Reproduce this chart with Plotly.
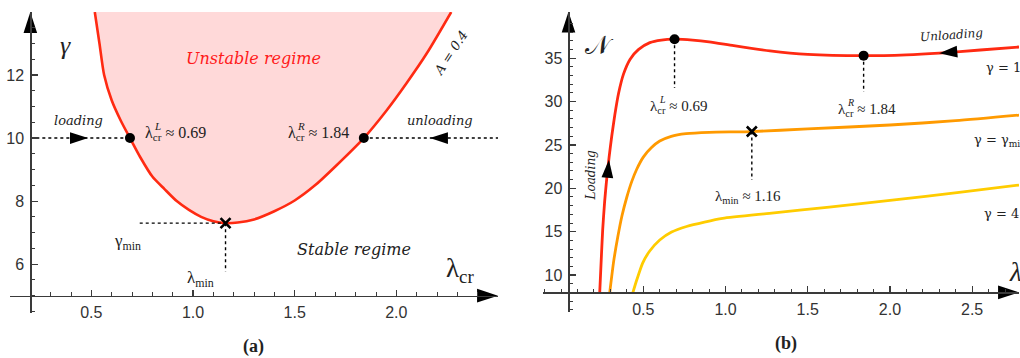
import numpy as np
import plotly.graph_objects as go

# ---------------- data: panel (a)  stability boundary, A = 0.4 ----------------
lam_cr = [0.517, 0.540, 0.563, 0.60, 0.645, 0.69, 0.74, 0.80, 0.86, 0.92, 0.98, 1.04,
          1.10, 1.16, 1.22, 1.30, 1.40, 1.50, 1.60, 1.70, 1.84, 1.95, 2.05, 2.15, 2.27]
gamma_cr = [14.0, 13.0, 12.0, 11.2, 10.55, 10.0, 9.4, 8.78, 8.38, 8.0, 7.72, 7.5,
            7.36, 7.30, 7.32, 7.42, 7.68, 8.02, 8.5, 9.1, 10.0, 10.86, 11.74, 12.69, 14.0]
lam_crit = [0.69, 1.84]          # lambda_cr^L, lambda_cr^R
gamma_load = 10.0
lam_min, gamma_min = 1.16, 7.30

# ---------------- data: panel (b)  N(lambda) curves ----------------
lam_g10 = [0.235, 0.244, 0.253, 0.265, 0.278, 0.292, 0.308, 0.327, 0.35, 0.38, 0.42,
           0.47, 0.54, 0.61, 0.69, 0.80, 0.90, 1.05, 1.27, 1.50, 1.84, 2.10, 2.30, 2.55, 2.785]
N_g10 = [8.0, 11.7, 15.2, 18.5, 21.2, 23.6, 26.0, 28.5, 31.0, 33.2, 34.9,
         36.0, 36.8, 37.1, 37.2, 37.1, 36.9, 36.45, 35.85, 35.45, 35.3, 35.4, 35.6, 35.95, 36.3]
lam_gmin = [0.296, 0.32, 0.345, 0.37, 0.40, 0.43, 0.46, 0.50, 0.55, 0.60, 0.67, 0.76,
            0.90, 1.16, 1.50, 2.0, 2.4, 2.785]
N_gmin = [8.0, 11.6, 14.4, 16.8, 19.0, 20.8, 22.2, 23.6, 24.7, 25.45, 26.0, 26.3,
          26.46, 26.55, 26.85, 27.3, 27.8, 28.45]
lam_g45 = [0.437, 0.46, 0.496, 0.539, 0.60, 0.672, 0.763, 0.872, 0.982, 1.267, 1.631,
           2.014, 2.421, 2.785]
N_g45 = [8.0, 9.42, 11.38, 12.77, 14.04, 14.96, 15.6, 16.11, 16.54, 17.12, 17.84,
         18.65, 19.52, 20.38]
N_crit = [37.2, 35.3]
N_min = 26.55

xticks_a = [0.5, 1.0, 1.5, 2.0]
yticks_a = [6, 8, 10, 12]
xticks_b = [0.5, 1.0, 1.5, 2.0, 2.5]
yticks_b = [10, 15, 20, 25, 30, 35]

# ---------------- geometry ----------------
W, H = 1020, 358
def fx(p):
    return p / W
def fy(p):
    return (H - p) / H

XR_A, YR_A = [0.1, 2.5], [4.45, 14.0]
XR_B, YR_B = [-0.11, 2.785], [5.77, 40.37]
DX_A, DY_A = [fx(10), fx(498)], [fy(313), fy(12)]
DX_B, DY_B = [fx(543), fx(1019)], [fy(311.7), fy(11.7)]
ORIG_A = (0.2, 5.0)
ORIG_B = (0.045, 8.0)

def pos(v, r, d):
    return d[0] + (v - r[0]) / (r[1] - r[0]) * (d[1] - d[0])

RED = '#FF2A12'
ORANGE = '#FF9A00'
GOLD = '#FFCC00'
AX = '#3a3a3a'
SERIF = 'Liberation Serif'
TSERIF = 'DejaVu Serif'
SANS = 'Liberation Sans'

fig = go.Figure()

# ---- panel (a) ----
fig.add_trace(go.Scatter(x=lam_cr, y=gamma_cr, mode='lines', fill='toself',
                         fillcolor='#FFD9D9', line=dict(width=0, shape='spline', smoothing=0.7),
                         hoverinfo='skip', xaxis='x', yaxis='y'))
fig.add_trace(go.Scatter(x=lam_cr, y=gamma_cr, mode='lines',
                         line=dict(color=RED, width=2.6, shape='spline', smoothing=0.7),
                         xaxis='x', yaxis='y'))
dot = dict(color='black', width=1.4, dash='dot')
fig.add_trace(go.Scatter(x=[ORIG_A[0], lam_crit[0]], y=[gamma_load] * 2, mode='lines', line=dot, xaxis='x', yaxis='y'))
fig.add_trace(go.Scatter(x=[lam_crit[1], XR_A[1]], y=[gamma_load] * 2, mode='lines', line=dot, xaxis='x', yaxis='y'))
fig.add_trace(go.Scatter(x=[0.738, lam_min], y=[gamma_min] * 2, mode='lines', line=dot, xaxis='x', yaxis='y'))
fig.add_trace(go.Scatter(x=[lam_min, lam_min], y=[gamma_min, 5.77], mode='lines', line=dot, xaxis='x', yaxis='y'))
fig.add_trace(go.Scatter(x=lam_crit, y=[gamma_load] * 2, mode='markers',
                         marker=dict(color='black', size=10), xaxis='x', yaxis='y'))
fig.add_trace(go.Scatter(x=[lam_min], y=[gamma_min], mode='markers',
                         marker=dict(color='black', size=10, symbol='x-thin', line=dict(width=2.6, color='black')),
                         xaxis='x', yaxis='y'))

# ---- panel (b) ----
for lx, ly, c in [(lam_g45, N_g45, GOLD), (lam_gmin, N_gmin, ORANGE), (lam_g10, N_g10, RED)]:
    fig.add_trace(go.Scatter(x=lx, y=ly, mode='lines',
                             line=dict(color=c, width=2.8, shape='spline', smoothing=0.6),
                             xaxis='x2', yaxis='y2'))
fig.add_trace(go.Scatter(x=[lam_crit[0]] * 2, y=[N_crit[0], 31.57], mode='lines', line=dot, xaxis='x2', yaxis='y2'))
fig.add_trace(go.Scatter(x=[lam_crit[1]] * 2, y=[N_crit[1], 31.1], mode='lines', line=dot, xaxis='x2', yaxis='y2'))
fig.add_trace(go.Scatter(x=[lam_min] * 2, y=[N_min, 20.96], mode='lines', line=dot, xaxis='x2', yaxis='y2'))
fig.add_trace(go.Scatter(x=lam_crit, y=N_crit, mode='markers',
                         marker=dict(color='black', size=10), xaxis='x2', yaxis='y2'))
fig.add_trace(go.Scatter(x=[lam_min], y=[N_min], mode='markers',
                         marker=dict(color='black', size=10, symbol='x-thin', line=dict(width=2.6, color='black')),
                         xaxis='x2', yaxis='y2'))

# ---- arrowheads (axes + paths) ----
def arrow(x, y, ang, size, xa, ya):
    fig.add_trace(go.Scatter(x=[x], y=[y], mode='markers', cliponaxis=False,
                             marker=dict(symbol='arrow', angle=ang, size=size, color='black',
                                         line=dict(width=0)),
                             xaxis=xa, yaxis=ya))

arrow(XR_A[1], ORIG_A[1], 90, 22, 'x', 'y')
arrow(ORIG_A[0], YR_A[1], 0, 22, 'x', 'y')
arrow(XR_B[1], ORIG_B[1], 90, 22, 'x2', 'y2')
arrow(ORIG_B[0], YR_B[1], 0, 22, 'x2', 'y2')
arrow(0.484, gamma_load, 90, 19, 'x', 'y')
arrow(2.165, gamma_load, 270, 19, 'x', 'y')
arrow(0.291, 23.3, 5, 19, 'x2', 'y2')
arrow(2.30, 35.58, 265, 19, 'x2', 'y2')

# ---------------- annotations ----------------
ann = []
def txt(x, y, s, p='a', size=16, color='#222', family=SERIF, italic=False, angle=0,
        xanchor='center', yanchor='middle', xshift=0, yshift=0, ref=None):
    if italic:
        s = f'<i>{s}</i>'
    if ref == 'paper':
        xr, yr = 'paper', 'paper'
    else:
        xr, yr = ('x', 'y') if p == 'a' else ('x2', 'y2')
    ann.append(dict(x=x, y=y, xref=xr, yref=yr, text=s, showarrow=False,
                    font=dict(family=family, size=size, color=color), textangle=angle,
                    xanchor=xanchor, yanchor=yanchor, xshift=xshift, yshift=yshift))

# panel (a)
txt(0.371, 12.95, 'γ', size=26, italic=True)
txt(1.296, 12.54, 'Unstable regime', size=16, italic=True, color='#FF1A1A', family=TSERIF)
txt(2.27, 12.7, 'A = 0.4', size=13, italic=True, angle=-57, family=TSERIF)
txt(0.435, 10.57, 'loading', size=13, italic=True, family=TSERIF)
txt(2.216, 10.57, 'unloading', size=13, italic=True, family=TSERIF)
txt(0.754, 10.15, 'λ<sub>cr</sub> ≈ 0.69', size=16, xanchor='left')
txt(0.754, 10.15, '<i>L</i>', size=11, xanchor='left', xshift=9, yshift=7)
txt(1.458, 10.15, 'λ<sub>cr</sub> ≈ 1.84', size=16, xanchor='left')
txt(1.458, 10.15, '<i>R</i>', size=11, xanchor='left', xshift=9, yshift=7)
txt(0.68, 6.70, 'γ<sub>min</sub>', size=17)
txt(1.035, 5.53, 'λ<sub>min</sub>', size=17)
txt(1.79, 6.45, 'Stable regime', size=16, italic=True, family=TSERIF)
txt(2.315, 5.81, 'λ<sub>cr</sub>', size=27)
txt(fx(253), fy(346), '<b>(a)</b>', size=18, ref='paper')

# panel (b)
txt(0.235, 36.5, '𝒩', p='b', size=26)
txt(0.528, 29.4, 'λ<sub>cr</sub> ≈ 0.69', p='b', size=15, xanchor='left')
txt(0.528, 29.4, '<i>L</i>', p='b', size=10, xanchor='left', xshift=9, yshift=7)
txt(1.672, 29.06, 'λ<sub>cr</sub> ≈ 1.84', p='b', size=15, xanchor='left')
txt(1.672, 29.06, '<i>R</i>', p='b', size=10, xanchor='left', xshift=9, yshift=7)
txt(0.923, 19.0, 'λ<sub>min</sub> ≈ 1.16', p='b', size=15, xanchor='left')
txt(0.183, 21.5, 'Loading', p='b', size=12, italic=True, angle=-90, family=TSERIF)
txt(2.372, 37.68, 'Unloading', p='b', size=12, italic=True, angle=-4, family=TSERIF)
txt(2.573, 33.9, 'γ = 10', p='b', size=13, xanchor='left', family=TSERIF)
txt(2.50, 25.57, 'γ = γ<sub>min</sub>', p='b', size=13, xanchor='left', family=TSERIF)
txt(2.56, 17.15, 'γ = 4.5', p='b', size=13, xanchor='left', family=TSERIF)
txt(2.712, 10.3, 'λ', p='b', size=27, italic=True, xanchor='left')
txt(fx(786), fy(343), '<b>(b)</b>', size=18, ref='paper')

def xaxis(r, d, ticks, ypos, minor_vals):
    return dict(range=r, domain=d, anchor='free', position=ypos, showline=True,
                linecolor=AX, linewidth=1.5, ticks='inside', ticklen=6, tickwidth=1.2,
                tickcolor=AX, tickmode='array', tickvals=ticks,
                ticktext=[f'{t:.1f}' for t in ticks], showgrid=False, zeroline=False,
                tickfont=dict(family=SANS, size=16, color='#333'), ticklabelstandoff=2,
                minor=dict(ticks='inside', ticklen=3.5, tickwidth=1, tickcolor=AX,
                           tickmode='array', tickvals=minor_vals, showgrid=False),
                fixedrange=True)

def yaxis(r, d, ticks, xpos, minor_vals):
    return dict(range=r, domain=d, anchor='free', position=xpos, showline=True,
                linecolor=AX, linewidth=1.5, ticks='inside', ticklen=6, tickwidth=1.2,
                tickcolor=AX, tickmode='array', tickvals=ticks,
                ticktext=[str(t) for t in ticks], showgrid=False, zeroline=False,
                tickfont=dict(family=SANS, size=16, color='#333'), ticklabelstandoff=3,
                minor=dict(ticks='inside', ticklen=3.5, tickwidth=1, tickcolor=AX,
                           tickmode='array', tickvals=minor_vals, showgrid=False),
                fixedrange=True)

minor_xa = [round(v, 2) for v in np.arange(0.1, 2.45, 0.1)]
minor_ya = [round(v, 2) for v in np.arange(4.5, 13.6, 0.5)]
minor_xb = [round(v, 2) for v in np.arange(-0.1, 2.75, 0.1)]
minor_yb = [int(v) for v in np.arange(6, 40, 1)]

fig.update_layout(
    width=W, height=H, margin=dict(l=0, r=0, t=0, b=0),
    paper_bgcolor='white', plot_bgcolor='rgba(0,0,0,0)', showlegend=False,
    font=dict(family=SERIF, color='#222'), hovermode=False,
    xaxis=xaxis(XR_A, DX_A, xticks_a, pos(ORIG_A[1], YR_A, DY_A), minor_xa),
    yaxis=yaxis(YR_A, DY_A, yticks_a, pos(ORIG_A[0], XR_A, DX_A), minor_ya),
    xaxis2=xaxis(XR_B, DX_B, xticks_b, pos(ORIG_B[1], YR_B, DY_B), minor_xb),
    yaxis2=yaxis(YR_B, DY_B, yticks_b, pos(ORIG_B[0], XR_B, DX_B), minor_yb),
    annotations=ann,
)

fig.write_html('out.html', config={'displayModeBar': False, 'staticPlot': True},
               post_script="document.body.style.margin='0px';document.body.style.padding='0px';")
